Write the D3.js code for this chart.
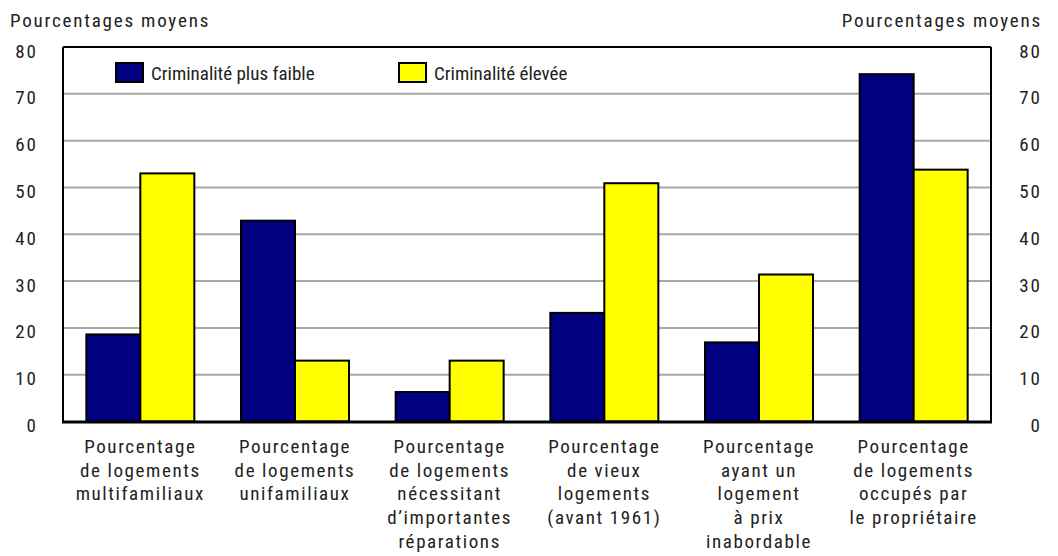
<!DOCTYPE html>
<html><head><meta charset="utf-8">
<script src="https://cdn.jsdelivr.net/npm/d3@7"></script>
<style>
body{margin:0;background:#fff;}
text{font-family:"Liberation Sans Narrow","Roboto Condensed","Liberation Sans",sans-serif;fill:#222;}
</style></head>
<body><svg id="c" width="1058" height="556"></svg>
<script>
const categories = [
  ["Pourcentage","de logements","multifamiliaux"],
  ["Pourcentage","de logements","unifamiliaux"],
  ["Pourcentage","de logements","nécessitant","d’importantes","réparations"],
  ["Pourcentage","de vieux","logements","(avant 1961)"],
  ["Pourcentage","ayant un","logement","à prix","inabordable"],
  ["Pourcentage","de logements","occupés par","le propriétaire"]
];
const lowerCrime = [18.6, 42.9, 6.3, 23.2, 16.9, 74.2];
const higherCrime = [53.0, 13.0, 13.0, 50.9, 31.4, 53.8];
const seriesNames = ["Criminalité plus faible", "Criminalité élevée"];
const yTicks = [0,10,20,30,40,50,60,70,80];
const axisTitle = "Pourcentages moyens";

const svg = d3.select("#c");
const L = 63, R = 991, T = 47, B = 421.5;
const x = d3.scaleBand().domain(d3.range(categories.length)).range([L, R]);
const y = d3.scaleLinear().domain([0, 80]).range([B, T]);
const bw = 54;
const colors = ["#000080", "#ffff00"];

// gridlines
svg.append("g").selectAll("line").data(yTicks.filter(d => d > 0 && d < 80)).join("line")
  .attr("x1", L).attr("x2", R).attr("y1", d => y(d)).attr("y2", d => y(d))
  .attr("stroke", "#a8a8a8").attr("stroke-width", 2);

// bars
const series = [lowerCrime, higherCrime];
series.forEach((vals, si) => {
  svg.append("g").selectAll("rect").data(vals).join("rect")
    .attr("x", (d, i) => x(i) + x.bandwidth() / 2 - bw + si * bw)
    .attr("y", d => y(d))
    .attr("width", bw)
    .attr("height", d => y(0) - y(d))
    .attr("fill", colors[si]).attr("stroke", "#000").attr("stroke-width", 2);
});

// frame
svg.append("line").attr("x1", L).attr("x2", R).attr("y1", T).attr("y2", T).attr("stroke", "#000").attr("stroke-width", 2);
svg.append("line").attr("x1", L).attr("x2", L).attr("y1", T).attr("y2", B).attr("stroke", "#000").attr("stroke-width", 2);
svg.append("line").attr("x1", R).attr("x2", R).attr("y1", T).attr("y2", B).attr("stroke", "#000").attr("stroke-width", 2);
svg.append("line").attr("x1", L - 1).attr("x2", R + 1).attr("y1", B + 0.5).attr("y2", B + 0.5).attr("stroke", "#000").attr("stroke-width", 3);

// axes labels
const leftAxis = d3.axisLeft(y).tickValues(yTicks).tickSize(0).tickPadding(0);
const gl = svg.append("g").attr("transform", `translate(38,4)`).call(leftAxis);
const ar = d3.axisRight(y).tickValues(yTicks).tickSize(0).tickPadding(0);
const gr = svg.append("g").attr("transform", `translate(1042,4)`).call(ar);
[gl, gr].forEach(g => {
  g.select(".domain").remove();
  g.selectAll("text").attr("font-size", 19).attr("fill", "#222").style("letter-spacing", "2px")
    .attr("font-family", '"Liberation Sans Narrow","Liberation Sans",sans-serif');
});
gr.selectAll("text").attr("text-anchor", "end");

svg.append("text").attr("x", 10).attr("y", 27).attr("font-size", 19).style("letter-spacing", "1.8px").text(axisTitle);
svg.append("text").attr("x", 1042).attr("y", 27).attr("font-size", 19).style("letter-spacing", "1.8px").attr("text-anchor", "end").text(axisTitle);

// category labels
const cg = svg.append("g").selectAll("text").data(categories).join("text")
  .attr("x", (d, i) => x(i) + x.bandwidth() / 2)
  .attr("y", 453).attr("text-anchor", "middle").attr("font-size", 19).style("letter-spacing", "1.6px");
cg.selectAll("tspan").data(d => d).join("tspan")
  .attr("x", function () { return d3.select(this.parentNode).attr("x"); })
  .attr("dy", (d, i) => i === 0 ? 0 : 23.7).text(d => d);

// legend
const legX = [116, 399];
seriesNames.forEach((n, i) => {
  svg.append("rect").attr("x", legX[i]).attr("y", 63).attr("width", 27).attr("height", 19)
    .attr("fill", colors[i]).attr("stroke", "#000").attr("stroke-width", 2);
  svg.append("text").attr("x", legX[i] + 35).attr("y", 80).attr("font-size", 19).text(n);
});
</script></body></html>
